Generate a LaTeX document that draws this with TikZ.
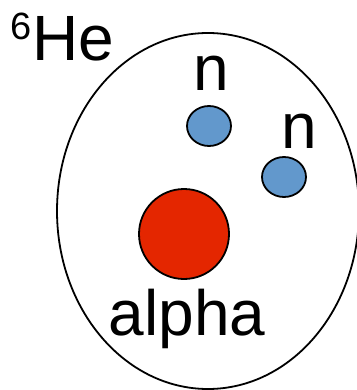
\documentclass[tikz,border=0pt]{standalone}
\usepackage{fontspec}
\setmainfont{Liberation Sans}
\usepackage{tikz}
\usetikzlibrary{shapes.geometric}
\definecolor{neutronblue}{RGB}{98,152,204}
\definecolor{alphared}{RGB}{228,38,0}
\tikzset{every picture/.style={/utils/exec={\fontsize{64}{64}\selectfont}}}

\begin{document}
\begin{tikzpicture}[x=1pt, y=-1pt, line width=1.8pt,
    label/.style={anchor=base west, inner sep=0pt},
    neutron/.style={ellipse, draw, fill=neutronblue, minimum width=44pt, minimum height=40pt, inner sep=0pt},
    core/.style={circle, draw, fill=alphared, minimum size=90pt, inner sep=0pt}]
            \useasboundingbox (0, 0) rectangle (356, 390);
            \node[ellipse, draw, minimum width=302pt, minimum height=356pt, inner sep=0pt] (nucleus) at (208, 211) {};

            \node[label] (he) at (10, 61) {\raisebox{21pt}{\fontsize{38}{38}\selectfont 6}He};

            \node[neutron] (n1) at (209, 126) {};
            \node[neutron] (n2) at (284, 177) {};
            \node[core] (alpha) at (184, 234) {};

            \node[label] (n1label) at (193, 91) {n};
            \node[label] (n2label) at (281, 149) {n};
            \node[label] (alphalabel) at (108, 335) {alpha};
        \end{tikzpicture}
\end{document}
